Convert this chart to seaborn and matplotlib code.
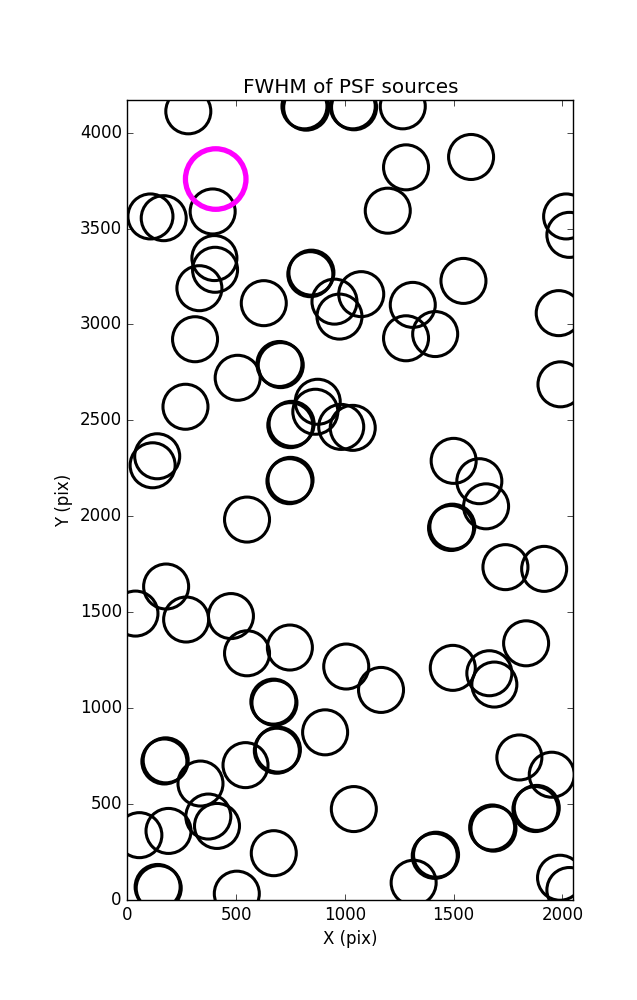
import matplotlib
matplotlib.use("Agg")
import matplotlib.pyplot as plt
import seaborn as sns
import pandas as pd

# source positions (pix)
src_x = [280, 814, 822, 1036, 1042, 1266, 392, 106, 167, 400, 403, 331, 627,
         841, 846, 952, 975, 1075, 311, 507, 699, 705, 1281, 1580, 1197, 2017,
         2032, 1545, 1312, 1281, 1415, 1983, 1991, 267, 875, 864, 749, 755,
         983, 1036, 137, 116, 745, 750, 550, 178, 37, 270, 476, 550, 747,
         1500, 1618, 1649, 1488, 1494, 1738, 1916, 1833, 1006, 1166, 671, 676,
         909, 687, 692, 543, 170, 176, 336, 372, 412, 1041, 55, 189, 673,
         139, 144, 503, 1496, 1664, 1687, 1802, 1951, 1876, 1882, 1677, 1683,
         1413, 1419, 1316, 1989, 2032]
src_y = [4111, 4137, 4130, 4137, 4132, 4137, 3589, 3563, 3554, 3346, 3285, 3189, 3111,
         3262, 3270, 3119, 3041, 3158, 2923, 2722, 2794, 2788, 3819, 3873, 3593, 3563,
         3467, 3227, 3102, 2928, 2950, 3059, 2688, 2571, 2597, 2545, 2475, 2482,
         2466, 2461, 2313, 2266, 2183, 2190, 1983, 1634, 1493, 1462, 1480, 1286, 1316,
         2289, 2183, 2052, 1939, 1946, 1735, 1726, 1338, 1217, 1095, 1034, 1028,
         874, 778, 784, 703, 722, 728, 607, 435, 386, 474, 338, 360, 244,
         68, 62, 33, 1210, 1182, 1123, 743, 653, 474, 480, 378, 372,
         230, 236, 90, 116, 52]

# highlighted source
hl_x = [406]
hl_y = [3758]

x_ticks = [0, 500, 1000, 1500, 2000]
y_ticks = [0, 500, 1000, 1500, 2000, 2500, 3000, 3500, 4000]

plt.style.use("classic")
plt.rcParams["font.family"] = ["DejaVu Sans"]
plt.rcParams["font.size"] = 12

fig = plt.figure(figsize=(6.37, 10.0), dpi=100, facecolor="white")
ax = fig.add_axes([0.2, 0.1, 0.7, 0.8])
ax.set_facecolor("white")

df = pd.DataFrame({"x": src_x, "y": src_y})
dh = pd.DataFrame({"x": hl_x, "y": hl_y})

sns.scatterplot(data=df, x="x", y="y", ax=ax, marker="o", s=1050,
                facecolors="none", edgecolor="black", linewidth=2.2,
                legend=False, zorder=2)
sns.scatterplot(data=dh, x="x", y="y", ax=ax, marker="o", s=1900,
                facecolors="none", edgecolor="#ff00ff", linewidth=3.8,
                legend=False, zorder=3)

ax.set_xlim(0, 2050)
ax.set_ylim(0, 4170)
ax.set_xticks(x_ticks)
ax.set_yticks(y_ticks)
ax.set_xlabel("X (pix)", fontsize=12)
ax.set_ylabel("Y (pix)", fontsize=12)
ax.set_title("FWHM of PSF sources", fontsize=14.4)
ax.tick_params(direction="in", top=True, right=True, labelsize=12)

fig.savefig("out.png", dpi=100, facecolor="white")
